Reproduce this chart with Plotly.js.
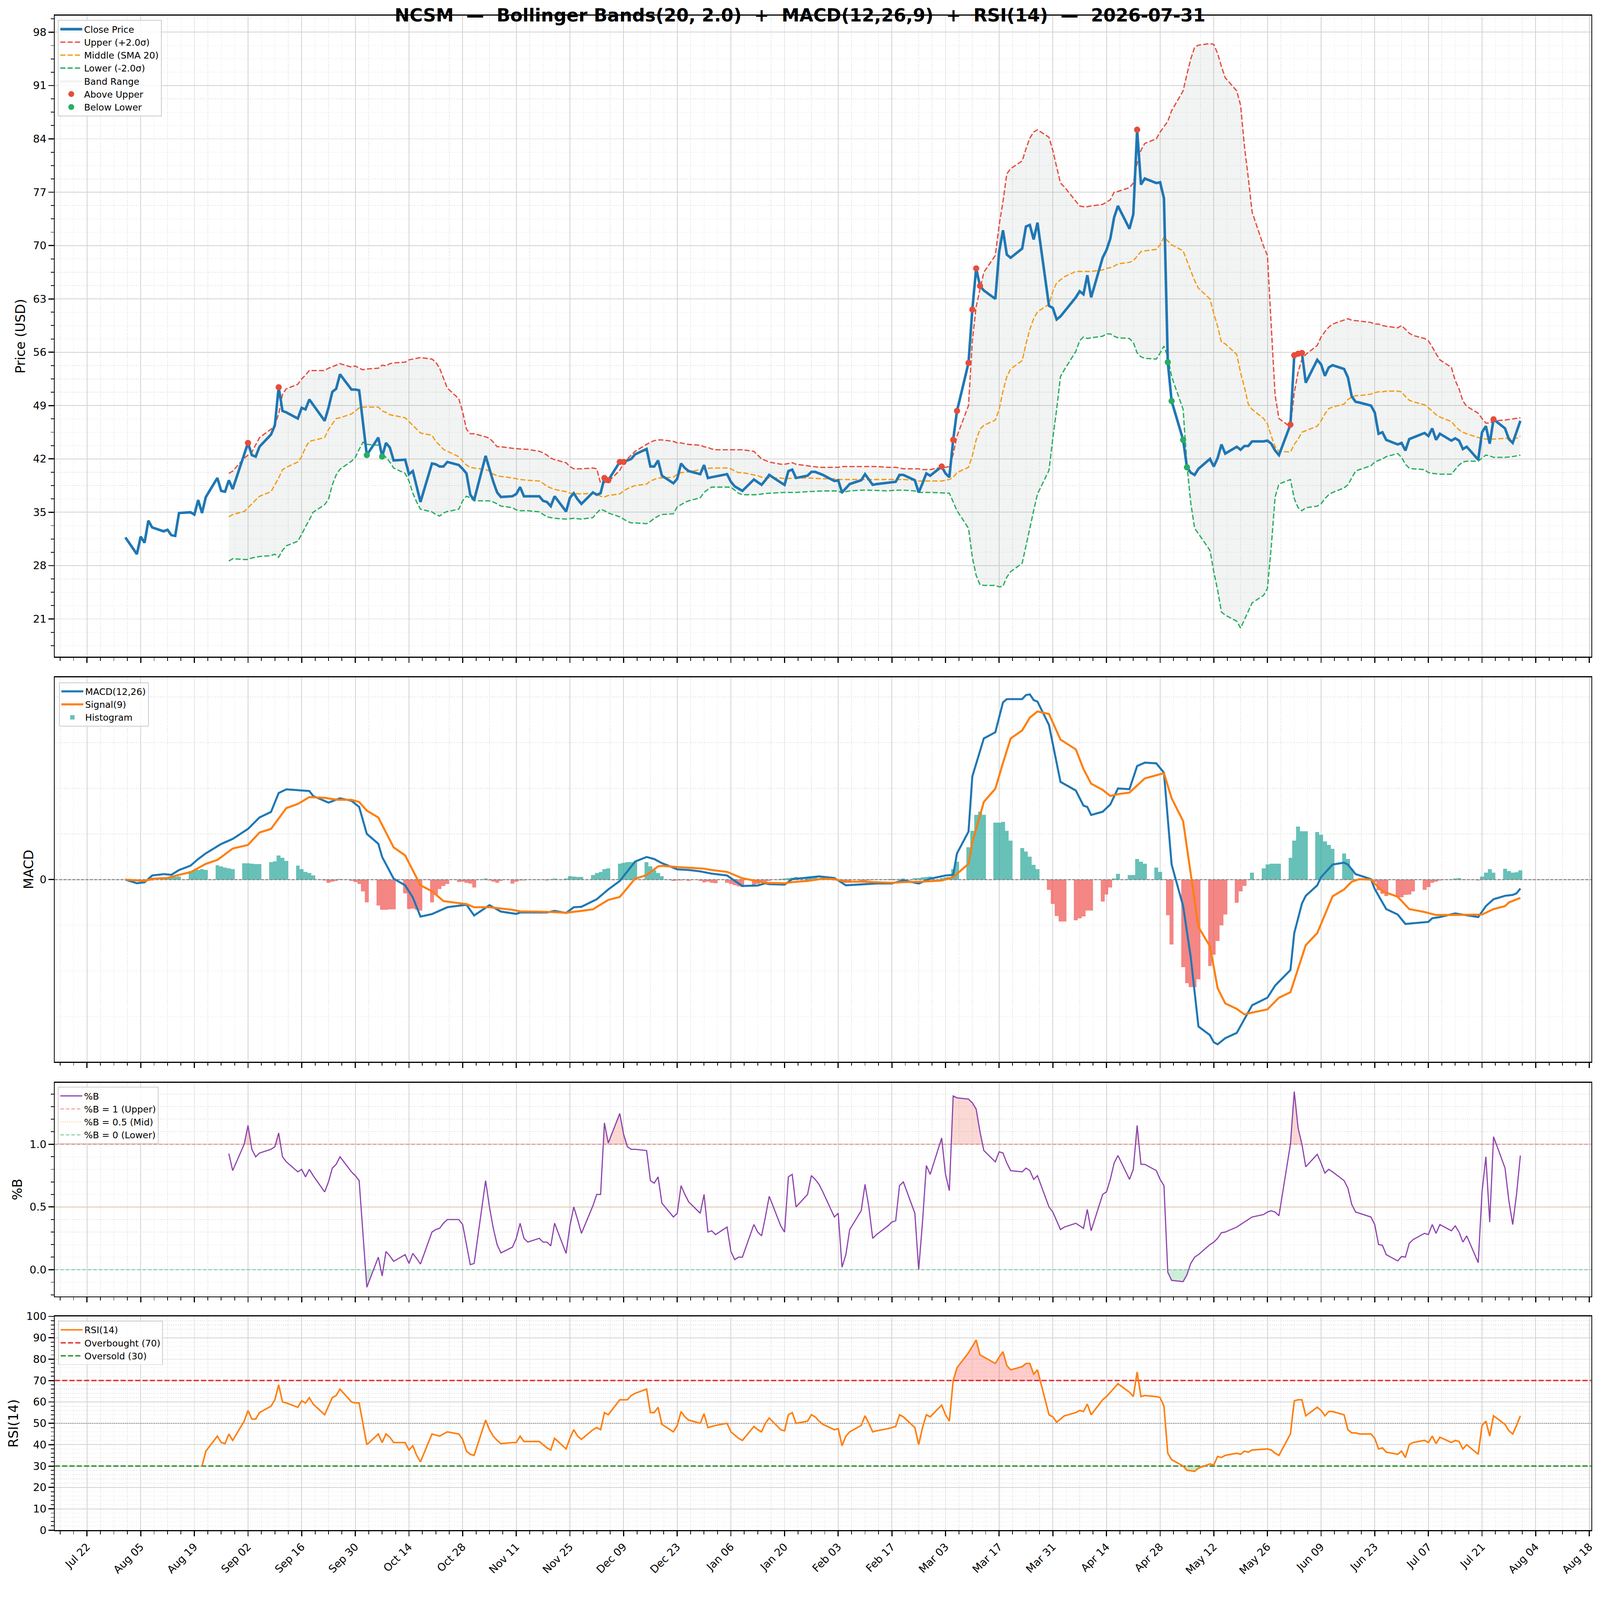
<!DOCTYPE html>
<html><head><meta charset="utf-8">
<script src="https://cdn.plot.ly/plotly-3.0.1.min.js"></script>
<style>html,body{margin:0;padding:0;background:#fff;overflow:hidden;}#chart{width:4378px;height:4322px;transform-origin:0 0;}</style>
</head><body><div id="chart"></div>
<script>
// ---------------- DATA ----------------
// Day offsets are calendar days from 2025-08-01 (first trading day).
const seriesStart = '2025-08-01';
const tickStart = '2025-07-22';
const xRangeDates = ['2025-07-13 14:10', '2026-08-18 11:45'];

// Close price, one value per trading day (weekdays 2025-08-01 .. 2026-07-31)
const closeVals = [
 31.7,
 29.5,31.8,31.0,33.9,33.0,
 32.5,32.7,32.0,31.9,34.9,
 35.0,34.7,36.6,34.9,37.0,
 39.5,37.8,37.7,39.2,38.05,
 42.6,44.1,42.5,42.3,43.6,
 45.2,46.4,51.4,48.3,48.1,
 47.3,48.7,48.5,49.8,49.1,
 47.0,48.7,50.8,51.2,53.1,
 51.1,51.1,51.0,46.8,42.5,
 44.8,42.3,44.1,43.5,41.8,
 41.9,40.0,40.4,38.4,36.35,
 41.4,41.3,41.0,41.0,41.6,
 41.2,40.7,40.1,37.3,36.6,
 42.4,40.6,39.0,37.6,37.0,
 37.1,37.4,38.3,37.1,37.1,
 37.1,36.5,36.35,35.8,37.1,
 35.1,36.9,37.5,36.7,36.1,
 37.6,37.3,37.5,39.5,39.2,
 41.6,41.6,41.8,42.0,42.6,
 43.3,41.0,41.0,41.8,39.8,
 38.8,39.4,41.4,40.8,40.4,
 40.0,41.2,39.5,39.6,39.7,
 40.0,39.0,38.4,38.1,37.8,
 39.3,38.9,38.6,39.2,39.9,
 38.9,38.6,40.4,40.6,39.5,
 39.8,40.3,40.3,40.1,39.9,
 39.1,39.2,37.6,38.1,38.7,
 39.2,40.0,39.3,38.6,38.7,
 38.9,38.9,39.0,39.9,39.9,
 39.2,37.6,38.8,40.1,39.8,
 41.0,40.1,39.6,44.5,48.3,
 54.6,61.6,67.0,64.7,64.1,
 63.0,69.2,72.0,68.8,68.4,
 69.6,72.5,72.7,70.8,73.0,
 62.1,61.8,60.3,60.7,61.3,
 63.2,64.0,63.6,66.1,63.2,
 68.4,69.4,70.9,73.7,75.2,
 72.2,74.1,85.2,78.0,78.8,
 78.2,78.3,76.2,54.7,49.6,
 44.5,40.9,40.2,39.9,40.7,
 42.0,41.0,42.1,43.9,42.7,
 43.6,43.2,43.7,43.7,44.3,
 44.3,44.4,44.0,43.1,42.5,
 46.5,55.6,55.8,55.9,52.0,
 55.0,54.4,52.9,54.0,54.3,
 53.8,52.7,50.2,49.5,49.4,
 49.0,48.1,45.3,45.5,44.5,
 43.9,44.1,43.1,44.6,44.8,
 45.4,45.0,46.0,44.5,45.3,
 44.4,44.7,44.4,43.3,43.6,
 41.9,45.5,46.3,44.0,47.2,
 46.0,44.6,44.1,45.6,47.0
];

// MACD histogram, one value per trading day
const histVals = [
 0.0,
 -0.05,-0.08,-0.1,-0.06,-0.03,
 0.05,0.08,0.1,0.12,0.13,
 0.38,0.4,0.42,0.45,0.42,
 0.63,0.58,0.52,0.5,0.45,
 0.72,0.72,0.7,0.68,0.68,
 0.77,0.8,1.06,0.96,0.82,
 0.61,0.45,0.34,0.29,0.18,
 -0.03,-0.14,-0.09,-0.06,0.03,
 -0.05,-0.1,-0.19,-0.51,-1.0,
 -1.14,-1.32,-1.32,-1.3,-1.3,
 -0.6,-1.29,-1.27,-1.32,-1.35,
 -1.0,-0.67,-0.41,-0.28,-0.19,
 -0.1,-0.09,-0.14,-0.17,-0.35,
 0.04,-0.03,-0.09,-0.14,-0.05,
 -0.17,-0.09,-0.03,-0.03,0.0,
 0.0,-0.01,-0.03,0.02,0.04,
 0.04,0.15,0.13,0.11,0.12,
 0.21,0.29,0.34,0.45,0.5,
 0.69,0.74,0.77,0.77,0.79,
 0.77,0.58,0.4,0.29,0.15,
 -0.06,-0.03,-0.04,-0.02,-0.05,
 -0.06,-0.12,-0.09,-0.14,-0.16,
 -0.14,-0.19,-0.25,-0.3,-0.32,
 -0.22,-0.19,-0.14,-0.1,-0.06,
 0.03,0.05,0.07,0.09,0.11,
 0.11,0.08,0.08,0.04,0.02,
 -0.03,-0.06,-0.12,-0.14,-0.14,
 -0.1,-0.06,-0.04,-0.02,0.0,
 0.01,0.03,0.02,0.03,0.05,
 0.07,0.07,0.1,0.12,0.14,
 0.07,0.1,0.12,0.45,0.79,
 1.41,2.14,2.83,2.97,2.83,
 2.49,2.49,2.52,2.14,1.71,
 1.38,1.22,1.01,0.64,0.45,
 -0.44,-1.07,-1.59,-1.83,-1.83,
 -1.78,-1.69,-1.61,-1.35,-1.35,
 -0.96,-0.65,-0.35,0.05,0.26,
 0.2,0.21,0.9,0.79,0.69,
 0.52,0.34,0.02,-1.56,-2.84,
 -3.84,-4.53,-4.71,-4.71,-4.37,
 -3.78,-3.28,-2.69,-2.01,-1.53,
 -1.02,-0.51,-0.27,0.02,0.31,
 0.5,0.66,0.7,0.7,0.7,
 0.96,1.71,2.32,2.11,2.11,
 2.09,1.97,1.68,1.52,1.34,
 1.15,0.9,0.45,0.02,0.01,
 0.0,-0.1,-0.46,-0.62,-0.73,
 -0.78,-0.78,-0.67,-0.65,-0.51,
 -0.44,-0.32,-0.14,-0.09,-0.03,
 0.02,0.04,0.06,0.02,0.0,
 -0.03,0.13,0.31,0.45,0.31,
 0.47,0.37,0.31,0.32,0.40
];

// [day, value] pairs
const upperBand = [[27,40.1],[28,40.4],[31,42.1],[33,42.9],[35,44.8],[38,45.9],[39,46.5],[40,47.9],[41,50.5],[42,51.2],[45,51.8],[46,52.5],[47,53.0],[48,53.6],[52,53.6],[53,53.9],[55,54.3],[56,54.5],[59,54.05],[60,54.2],[61,53.9],[62,53.7],[63,53.8],[66,53.9],[67,54.3],[68,54.2],[69,54.5],[70,54.6],[73,54.7],[74,55.0],[77,55.3],[80,55.1],[81,54.7],[82,53.9],[83,52.6],[84,51.3],[87,49.9],[88,48.2],[89,45.9],[90,45.3],[91,45.3],[94,44.9],[95,44.7],[96,44.2],[97,43.6],[98,43.6],[101,43.4],[103,43.3],[105,43.25],[108,43.0],[109,42.8],[110,42.5],[111,42.1],[112,41.9],[115,41.5],[116,41.0],[117,40.7],[119,40.7],[122,40.8],[123,40.7],[124,38.8],[125,38.9],[126,39.0],[129,40.5],[130,41.4],[131,42.0],[132,42.5],[133,43.0],[136,43.9],[137,44.2],[138,44.4],[139,44.5],[140,44.5],[143,44.3],[144,44.1],[145,44.1],[146,44.0],[147,43.9],[150,43.8],[151,43.6],[152,43.5],[153,43.3],[154,43.2],[157,43.2],[161,43.2],[164,43.0],[165,42.5],[166,42.0],[167,41.8],[168,41.6],[171,41.3],[172,41.3],[173,41.4],[174,41.5],[175,41.3],[178,41.1],[179,41.0],[181,40.9],[186,40.9],[187,41.0],[192,41.0],[196,41.0],[199,40.9],[201,40.9],[202,40.8],[203,40.7],[207,40.7],[208,40.6],[210,40.6],[213,40.9],[214,40.9],[215,41.0],[216,42.6],[217,45.0],[220,49.0],[221,57.5],[222,62.0],[223,64.3],[224,66.5],[227,68.7],[228,72.7],[229,75.8],[230,79.4],[231,80.1],[234,81.1],[235,82.7],[236,84.1],[237,84.9],[238,85.2],[241,84.2],[242,82.5],[243,80.3],[244,78.2],[245,77.7],[248,75.8],[249,75.2],[250,75.1],[251,75.1],[252,75.2],[255,75.4],[256,75.7],[257,76.0],[258,77.0],[259,77.1],[262,77.6],[263,78.2],[264,80.8],[265,82.5],[266,83.4],[269,84.0],[270,84.9],[271,85.6],[272,86.3],[273,87.7],[276,90.3],[277,92.5],[278,94.5],[279,96.0],[280,96.3],[283,96.5],[284,96.4],[285,95.2],[286,93.5],[287,92.0],[290,90.3],[291,88.4],[292,83.0],[293,78.9],[294,74.4],[297,69.9],[298,68.7],[299,59.4],[300,50.4],[301,47.3],[304,46.2],[305,50.7],[306,53.4],[307,55.1],[308,55.7],[311,56.9],[312,58.0],[313,58.7],[314,59.3],[315,59.7],[318,60.2],[319,60.4],[320,60.2],[322,60.1],[325,59.9],[326,59.7],[327,59.7],[328,59.5],[329,59.4],[332,59.2],[333,59.5],[334,59.0],[335,58.5],[336,58.2],[339,57.8],[340,57.5],[341,56.7],[342,55.8],[343,55.0],[346,54.0],[347,52.3],[348,51.2],[349,49.6],[350,48.9],[353,48.0],[354,47.3],[355,46.7],[356,46.7],[357,47.0],[360,47.1],[364,47.4]];

const middleBand = [[27,34.4],[28,34.7],[31,35.1],[32,35.6],[33,36.1],[35,37.1],[38,37.7],[39,38.6],[40,39.5],[41,40.6],[42,40.9],[45,41.6],[46,42.3],[47,43.5],[48,44.3],[52,44.8],[53,45.85],[54,46.6],[55,47.3],[56,47.4],[59,47.9],[60,48.3],[61,48.7],[62,48.8],[66,48.8],[67,48.3],[68,48.1],[69,47.8],[70,47.7],[73,47.4],[74,46.9],[75,46.4],[76,45.85],[77,45.4],[80,45.1],[81,44.3],[82,43.8],[83,43.25],[84,43.0],[87,42.3],[88,41.7],[89,41.2],[90,40.9],[91,40.8],[94,40.6],[95,40.4],[96,40.0],[97,39.8],[98,39.7],[101,39.5],[103,39.3],[105,39.2],[108,39.1],[109,38.8],[110,38.4],[111,38.2],[112,38.0],[115,37.7],[116,37.5],[119,37.4],[122,37.5],[123,37.4],[124,37.1],[125,37.0],[126,37.2],[129,37.4],[130,37.8],[131,38.1],[132,38.3],[133,38.5],[136,38.7],[137,39.1],[138,39.3],[139,39.5],[140,39.5],[143,39.6],[144,40.0],[145,40.2],[147,40.3],[150,40.6],[151,40.7],[153,40.8],[157,40.8],[158,40.7],[159,40.4],[160,40.2],[161,40.2],[164,39.9],[165,39.8],[166,39.6],[167,39.5],[171,39.5],[172,39.4],[175,39.5],[178,39.5],[182,39.4],[185,39.4],[186,39.3],[196,39.3],[203,39.3],[206,39.2],[207,39.1],[213,39.1],[214,39.2],[215,39.3],[216,39.6],[217,40.2],[220,40.9],[221,42.4],[222,44.5],[223,45.9],[224,46.4],[227,47.1],[228,48.5],[229,50.9],[230,52.8],[231,53.8],[234,54.9],[235,57.1],[236,59.0],[237,60.4],[238,61.3],[241,62.3],[242,64.0],[243,65.1],[244,65.5],[245,65.9],[248,66.6],[252,66.6],[255,66.8],[256,67.0],[257,67.1],[258,67.3],[259,67.6],[262,67.8],[263,68.0],[264,68.6],[265,69.2],[266,69.3],[269,69.5],[270,70.1],[271,71.1],[272,70.6],[273,70.1],[276,69.3],[277,68.0],[278,66.6],[279,65.4],[280,64.4],[283,63.0],[284,61.1],[285,59.4],[286,57.3],[287,57.1],[290,55.7],[291,53.3],[292,51.4],[293,49.2],[294,48.5],[297,47.3],[298,46.6],[299,45.0],[300,43.6],[301,43.0],[304,42.9],[305,43.9],[306,44.6],[307,45.5],[308,45.7],[311,46.3],[312,47.0],[313,47.9],[314,48.6],[315,48.8],[318,49.2],[319,49.8],[320,50.1],[321,50.3],[322,50.3],[325,50.5],[326,50.7],[327,50.8],[328,50.8],[329,50.9],[332,50.9],[333,50.8],[334,50.2],[335,49.7],[336,49.5],[339,49.1],[340,48.7],[341,48.3],[342,47.8],[343,47.5],[346,46.9],[347,46.3],[348,45.8],[349,45.5],[350,45.3],[353,44.8],[354,44.7],[355,44.6],[357,44.6],[360,44.7],[363,44.7],[364,45.0]];

const lowerBand = [[27,28.6],[28,28.9],[31,28.8],[32,28.8],[33,29.0],[35,29.2],[38,29.3],[39,29.5],[40,29.1],[41,30.0],[42,30.6],[45,31.2],[46,32.1],[47,33.1],[48,34.0],[49,35.0],[52,36.0],[53,36.7],[54,38.6],[55,39.9],[56,40.65],[59,41.7],[60,42.2],[61,43.25],[62,44.2],[63,43.9],[66,43.8],[67,42.7],[68,42.2],[69,41.6],[70,40.8],[73,40.1],[74,39.1],[75,37.5],[76,36.35],[77,35.4],[80,35.05],[81,34.7],[82,34.5],[83,34.9],[84,35.1],[87,35.4],[88,36.5],[89,37.1],[90,36.9],[91,36.5],[95,36.5],[96,36.35],[97,36.1],[98,35.8],[101,35.6],[102,35.3],[103,35.2],[105,35.2],[108,35.05],[109,34.7],[110,34.4],[111,34.3],[112,34.2],[115,34.1],[117,34.2],[119,34.1],[122,34.3],[123,34.9],[124,35.4],[125,35.2],[126,34.9],[129,34.4],[130,34.1],[131,33.8],[132,33.6],[133,33.6],[136,33.5],[137,33.8],[138,34.2],[139,34.5],[140,34.7],[143,34.8],[144,35.7],[145,36.0],[146,36.3],[147,36.5],[150,36.9],[151,37.6],[152,38.0],[153,38.3],[158,38.3],[159,37.9],[160,37.5],[161,37.3],[165,37.3],[166,37.4],[168,37.5],[172,37.6],[175,37.6],[178,37.7],[182,37.8],[186,37.8],[187,37.5],[188,37.7],[189,37.8],[192,37.9],[194,37.9],[199,37.8],[201,37.9],[203,37.9],[206,37.8],[207,37.6],[210,37.6],[215,37.5],[216,36.3],[217,35.2],[220,32.9],[221,29.1],[222,26.7],[223,25.5],[224,25.4],[227,25.4],[228,25.2],[229,25.3],[230,26.5],[231,27.2],[234,28.3],[235,30.7],[236,32.9],[237,35.2],[238,37.4],[241,40.5],[242,44.7],[243,48.5],[244,52.8],[245,53.7],[248,56.1],[249,57.5],[250,58.0],[251,57.8],[252,57.9],[255,58.1],[256,58.4],[257,58.4],[258,58.1],[259,57.9],[262,57.8],[263,57.3],[264,55.9],[265,55.4],[266,55.2],[269,55.1],[270,55.9],[271,56.8],[272,55.4],[273,52.8],[276,48.5],[277,41.2],[278,36.2],[279,32.9],[280,32.2],[283,30.0],[284,27.2],[285,24.8],[286,21.9],[287,21.5],[290,20.7],[291,19.8],[292,20.9],[293,21.9],[294,23.1],[297,24.1],[298,25.0],[299,30.5],[300,37.0],[301,38.7],[304,39.3],[305,36.8],[306,35.6],[307,35.2],[308,35.6],[311,35.8],[312,36.1],[313,36.8],[314,37.3],[315,37.6],[318,38.2],[319,38.6],[320,39.5],[321,40.4],[322,40.6],[325,41.1],[326,41.6],[327,41.8],[328,42.0],[329,42.3],[332,42.7],[333,42.2],[334,41.3],[335,40.8],[336,40.7],[339,40.6],[340,40.2],[341,40.1],[343,40.0],[346,40.0],[347,40.6],[348,41.2],[349,41.6],[350,41.7],[353,41.7],[354,42.1],[355,42.5],[356,42.4],[357,42.2],[360,42.2],[362,42.3],[363,42.4],[364,42.5]];

const aboveUpper = [[32,44.1],[40,51.4],[125,39.5],[126,39.2],[129,41.6],[130,41.6],[213,41.0],[216,44.5],[217,48.3],[220,54.6],[221,61.6],[222,67.0],[223,64.7],[264,85.2],[304,46.5],[305,55.6],[306,55.8],[307,55.9],[357,47.2]];
const belowLower = [[63,42.5],[67,42.3],[272,54.7],[273,49.6],[276,44.5],[277,40.9]];

const macdLine = [[0,0],[3,-0.16],[5,-0.12],[7,0.18],[10,0.24],[12,0.21],[14,0.42],[17,0.61],[19,0.9],[21,1.15],[25,1.56],[28,1.78],[32,2.22],[35,2.72],[38,2.96],[40,3.79],[42,3.95],[46,3.9],[48,3.88],[49,3.66],[53,3.37],[56,3.56],[59,3.45],[61,3.18],[63,2.0],[66,1.57],[67,0.99],[70,0.04],[73,-0.25],[75,-0.78],[77,-1.62],[80,-1.51],[84,-1.21],[89,-1.10],[91,-1.57],[95,-1.12],[98,-1.40],[102,-1.50],[103,-1.44],[110,-1.44],[112,-1.37],[115,-1.46],[117,-1.21],[119,-1.19],[123,-0.86],[126,-0.43],[129,-0.06],[133,0.79],[136,0.99],[138,0.9],[140,0.72],[144,0.45],[147,0.42],[150,0.36],[153,0.26],[157,0.18],[161,-0.28],[165,-0.26],[167,-0.16],[168,-0.2],[172,-0.22],[174,0.02],[178,0.1],[181,0.14],[185,0.07],[188,-0.25],[192,-0.21],[196,-0.17],[200,-0.17],[203,-0.03],[207,-0.17],[210,0.04],[214,0.18],[216,0.21],[217,1.15],[220,2.1],[221,4.52],[223,5.59],[224,6.18],[227,6.45],[229,7.76],[230,7.9],[234,7.9],[235,8.08],[236,8.11],[237,7.86],[238,7.79],[241,6.77],[244,4.28],[248,3.9],[250,3.24],[251,3.18],[252,2.83],[255,2.97],[257,3.29],[259,3.99],[262,3.96],[264,4.97],[266,5.12],[269,5.09],[271,4.68],[273,0.66],[276,-1.16],[278,-3.41],[280,-6.43],[283,-6.81],[284,-7.12],[285,-7.21],[287,-6.94],[290,-6.71],[291,-6.41],[294,-5.5],[298,-5.17],[300,-4.64],[304,-3.96],[305,-2.34],[307,-1.05],[308,-0.71],[311,-0.25],[312,0.11],[315,0.66],[318,0.74],[319,0.66],[321,0.24],[325,0.02],[326,-0.41],[329,-1.29],[332,-1.53],[334,-1.94],[340,-1.85],[341,-1.69],[343,-1.64],[347,-1.48],[350,-1.55],[353,-1.64],[355,-1.16],[357,-0.86],[360,-0.71],[362,-0.67],[363,-0.6],[364,-0.39]];

const signalLine = [[0,0],[5,-0.06],[7,0.04],[11,0.07],[14,0.21],[17,0.32],[21,0.69],[24,0.86],[28,1.36],[32,1.52],[35,2.06],[38,2.22],[42,3.13],[45,3.31],[48,3.61],[52,3.58],[55,3.50],[59,3.49],[61,3.40],[63,3.02],[66,2.72],[70,1.41],[73,1.06],[77,-0.25],[80,-0.51],[83,-0.94],[87,-1.03],[89,-1.07],[91,-1.21],[95,-1.21],[101,-1.32],[103,-1.39],[110,-1.41],[115,-1.45],[119,-1.37],[122,-1.30],[126,-0.89],[129,-0.76],[133,0.04],[136,0.2],[139,0.58],[140,0.6],[145,0.54],[151,0.48],[153,0.42],[157,0.34],[161,0.06],[167,-0.14],[172,-0.16],[174,-0.11],[178,-0.06],[182,0.04],[185,0.02],[188,-0.09],[192,-0.09],[200,-0.14],[203,-0.11],[208,-0.09],[213,-0.04],[216,0.11],[220,0.69],[221,1.63],[224,3.4],[227,3.98],[229,5.11],[231,6.18],[234,6.53],[236,7.09],[238,7.36],[241,7.25],[244,6.13],[248,5.7],[250,4.84],[252,4.2],[255,3.93],[257,3.66],[259,3.74],[262,3.81],[266,4.43],[269,4.57],[271,4.66],[273,3.56],[276,2.56],[280,-2.07],[283,-2.92],[285,-4.75],[287,-5.42],[290,-5.66],[292,-5.90],[294,-5.82],[298,-5.68],[301,-5.17],[304,-4.93],[308,-2.87],[311,-2.34],[315,-0.73],[318,-0.43],[320,-0.09],[322,0.02],[325,0.0],[328,-0.51],[332,-0.75],[335,-1.29],[339,-1.42],[342,-1.55],[346,-1.55],[350,-1.53],[354,-1.53],[357,-1.29],[360,-1.16],[361,-1.0],[364,-0.8]];

const percentB = [[27,0.925],[28,0.79],[31,1.0],[32,1.15],[33,0.96],[34,0.90],[35,0.93],[38,0.96],[39,0.98],[40,1.09],[41,0.9],[42,0.86],[45,0.78],[46,0.80],[47,0.74],[48,0.80],[49,0.75],[52,0.62],[53,0.70],[54,0.81],[55,0.84],[56,0.9],[59,0.78],[60,0.75],[61,0.71],[62,0.27],[63,-0.14],[66,0.1],[67,-0.05],[68,0.145],[69,0.11],[70,0.067],[73,0.12],[74,0.05],[75,0.13],[76,0.09],[77,0.045],[80,0.3],[81,0.32],[82,0.33],[83,0.37],[84,0.4],[87,0.4],[88,0.36],[89,0.2],[90,0.04],[91,0.05],[94,0.71],[95,0.5],[96,0.33],[97,0.2],[98,0.134],[101,0.18],[102,0.25],[103,0.37],[104,0.25],[105,0.22],[108,0.25],[109,0.22],[110,0.22],[111,0.19],[112,0.37],[115,0.13],[116,0.35],[117,0.5],[118,0.4],[119,0.29],[122,0.51],[123,0.6],[124,0.6],[125,1.17],[126,1.01],[129,1.245],[130,1.08],[131,0.98],[132,0.96],[133,0.96],[136,0.95],[137,0.71],[138,0.69],[139,0.74],[140,0.53],[143,0.42],[144,0.45],[145,0.67],[146,0.6],[147,0.54],[150,0.45],[151,0.6],[152,0.3],[153,0.31],[154,0.28],[157,0.34],[158,0.145],[159,0.08],[160,0.1],[161,0.1],[164,0.36],[165,0.3],[166,0.27],[167,0.42],[168,0.585],[171,0.35],[172,0.3],[173,0.74],[174,0.76],[175,0.5],[178,0.6],[179,0.75],[180,0.72],[181,0.68],[182,0.62],[185,0.42],[186,0.45],[187,0.02],[188,0.12],[189,0.32],[192,0.47],[193,0.68],[194,0.5],[195,0.25],[196,0.28],[199,0.35],[200,0.38],[201,0.39],[202,0.67],[203,0.70],[206,0.45],[207,0.0],[208,0.38],[209,0.83],[210,0.76],[213,1.05],[214,0.76],[215,0.63],[216,1.385],[217,1.37],[220,1.36],[221,1.33],[222,1.28],[223,1.1],[224,0.95],[227,0.86],[228,0.94],[229,0.93],[230,0.85],[231,0.79],[234,0.78],[235,0.81],[236,0.79],[237,0.72],[238,0.75],[241,0.5],[242,0.46],[243,0.39],[244,0.32],[245,0.34],[248,0.37],[249,0.35],[250,0.33],[251,0.48],[252,0.31],[255,0.6],[256,0.62],[257,0.72],[258,0.85],[259,0.91],[262,0.72],[263,0.8],[264,1.15],[265,0.84],[266,0.84],[269,0.79],[270,0.72],[271,0.67],[272,-0.02],[273,-0.085],[276,-0.095],[277,-0.04],[278,0.05],[279,0.1],[280,0.12],[283,0.2],[284,0.22],[285,0.25],[286,0.295],[287,0.3],[290,0.34],[291,0.36],[292,0.38],[293,0.40],[294,0.42],[297,0.44],[298,0.46],[299,0.47],[300,0.46],[301,0.43],[304,1.0],[305,1.42],[306,1.13],[307,1.0],[308,0.82],[311,0.92],[312,0.85],[313,0.77],[314,0.8],[315,0.78],[318,0.71],[319,0.65],[320,0.52],[321,0.46],[322,0.45],[325,0.42],[326,0.36],[327,0.2],[328,0.195],[329,0.12],[332,0.07],[333,0.105],[334,0.1],[335,0.21],[336,0.24],[339,0.29],[340,0.28],[341,0.36],[342,0.29],[343,0.36],[346,0.31],[347,0.35],[348,0.3],[349,0.22],[350,0.27],[353,0.056],[354,0.62],[355,0.9],[356,0.38],[357,1.06],[360,0.81],[361,0.55],[362,0.36],[363,0.6],[364,0.91]];

const rsi14 = [[20,30],[21,37],[24,44],[25,41],[26,40.5],[27,45],[28,42],[31,51],[32,56],[33,52],[34,52],[35,55],[38,58],[39,61],[40,68],[41,60],[42,59.5],[45,57.5],[46,60.5],[47,59.5],[48,62],[49,59],[52,54],[53,58],[54,62],[55,63],[56,66],[59,60],[60,59.5],[61,59.5],[62,50],[63,40],[66,45],[67,41],[68,45],[69,43.5],[70,41],[73,41],[74,37.5],[75,39.5],[76,35],[77,32],[80,45],[81,44.5],[82,44],[83,45],[84,46],[87,45],[88,42.5],[89,37],[90,35.5],[91,35],[94,51.5],[95,47],[96,44],[97,42],[98,40.5],[101,41],[102,41],[103,44],[104,41.5],[105,41.5],[108,41.5],[109,40],[110,38.5],[111,37.5],[112,43],[115,38],[116,43],[117,47],[118,44],[119,42.5],[122,47],[123,48],[124,47],[125,55],[126,54],[129,61],[130,61],[131,61],[132,63],[133,64],[136,66],[137,55],[138,55],[139,57.5],[140,49.5],[143,46],[144,49],[145,55.5],[146,53],[147,51.5],[150,50],[151,54.5],[152,48],[153,48.5],[154,49],[157,50],[158,46],[159,44.5],[160,43],[161,42],[164,48.5],[165,47],[166,46],[167,50],[168,52.5],[171,47],[172,46.5],[173,54],[174,55],[175,50],[178,51],[179,54],[180,53],[181,51],[182,49.5],[185,47],[186,47.5],[187,39.5],[188,44],[189,46],[192,49],[193,53.5],[194,50],[195,46],[196,46.5],[199,47.5],[200,48],[201,48.5],[202,54],[203,53],[206,48],[207,40],[208,48],[209,54],[210,53],[213,58.5],[214,54],[215,51],[216,70],[217,76],[220,83],[221,86],[222,89],[223,82],[224,81],[227,78],[228,81],[229,83.5],[230,77],[231,75],[234,76.5],[235,78],[236,78],[237,73],[238,75],[241,54],[242,53],[243,50.5],[244,52],[245,53.5],[248,55],[249,56],[250,55.5],[251,59],[252,54],[255,61],[256,62.5],[257,64.5],[258,66.5],[259,68.5],[262,64.5],[263,62.5],[264,74],[265,62.5],[266,63],[269,62.5],[270,62],[271,58],[272,36],[273,33],[276,30],[277,28],[278,27.8],[279,27.5],[280,29],[283,31],[284,30.5],[285,34.5],[286,34],[287,35],[290,36],[291,35.5],[292,37],[293,36.5],[294,37.5],[297,38],[298,38],[299,37.5],[300,36],[301,35],[304,45],[305,60.5],[306,61],[307,61],[308,53.5],[311,57.5],[312,56],[313,53.5],[314,55.5],[315,55.5],[318,54],[319,47],[320,45.5],[321,45.5],[322,45],[325,45],[326,43],[327,38],[328,38.5],[329,36.5],[332,35.5],[333,37],[334,34],[335,40],[336,41],[339,42],[340,41],[341,44],[342,40.5],[343,43.5],[346,41],[347,42],[348,41.5],[349,38],[350,40],[353,35.5],[354,49],[355,51],[356,44],[357,53.5],[360,49.5],[361,46.5],[362,45],[363,49],[364,53.5]];

// reference levels
const pbUpperLevel = 1, pbMidLevel = 0.5, pbLowerLevel = 0;
const rsiOverbought = 70, rsiOversold = 30, rsiMid = 50;

// ---------------- helpers ----------------
const DAY = 86400000;
const baseMs = Date.parse(seriesStart + 'T00:00:00Z');
function fmt(ms){ return new Date(ms).toISOString().slice(0,19).replace('T',' '); }
function dayToDate(d){ return fmt(baseMs + d*DAY); }
function tradingDays(n){ const out=[]; for(let d=0; out.length<n; d++){ const wd=new Date(baseMs+d*DAY).getUTCDay(); if(wd!==0 && wd!==6) out.push(d);} return out; }
const PX = p => p.map(q => dayToDate(q[0]));
const PY = p => p.map(q => q[1]);
function exceed(pairs, thr, above){
  const xs=[], ys=[]; const isOut = v => above ? v>thr : v<thr;
  for(let i=0;i<pairs.length;i++){
    const d=pairs[i][0], v=pairs[i][1], out=isOut(v);
    if(i>0){
      const pd=pairs[i-1][0], pv=pairs[i-1][1], pout=isOut(pv);
      if(out!==pout){ const t=(thr-pv)/(v-pv); xs.push(dayToDate(pd+t*(d-pd))); ys.push(thr); if(!out){xs.push(null); ys.push(null);} }
    } else if(out){ xs.push(dayToDate(d)); ys.push(thr); }
    if(out){ xs.push(dayToDate(d)); ys.push(v); }
    if(i===pairs.length-1 && out){ xs.push(dayToDate(d)); ys.push(thr); }
  }
  return {x:xs, y:ys};
}

const tdays = tradingDays(closeVals.length);
const closeX = tdays.map(dayToDate);
const histPos = {x:[], y:[]}, histNeg = {x:[], y:[]};
histVals.forEach((v,i)=>{ const t = v>=0 ? histPos : histNeg; t.x.push(dayToDate(tdays[i])); t.y.push(v); });

const FONT = 'DejaVu Sans';
const traces = [];
// ---- Price panel ----
traces.push({x:PX(lowerBand), y:PY(lowerBand), xaxis:'x', yaxis:'y', mode:'lines', line:{width:0,color:'rgba(0,0,0,0)'}, showlegend:false, hoverinfo:'skip', legend:'legend'});
traces.push({x:PX(upperBand), y:PY(upperBand), xaxis:'x', yaxis:'y', mode:'lines', line:{width:0,color:'rgba(0,0,0,0)'}, fill:'tonexty', fillcolor:'rgba(127,140,141,0.10)', name:'Band Range', legendrank:5, legend:'legend'});
traces.push({x:PX(upperBand), y:PY(upperBand), xaxis:'x', yaxis:'y', mode:'lines', line:{width:3.5,color:'#e74c3c',dash:'14px,6px'}, name:'Upper (+2.0σ)', legendrank:2, legend:'legend'});
traces.push({x:PX(middleBand), y:PY(middleBand), xaxis:'x', yaxis:'y', mode:'lines', line:{width:3.5,color:'#f39c12',dash:'14px,6px'}, name:'Middle (SMA 20)', legendrank:3, legend:'legend'});
traces.push({x:PX(lowerBand), y:PY(lowerBand), xaxis:'x', yaxis:'y', mode:'lines', line:{width:3.5,color:'#27ae60',dash:'14px,6px'}, name:'Lower (-2.0σ)', legendrank:4, legend:'legend'});
traces.push({x:closeX, y:closeVals, xaxis:'x', yaxis:'y', mode:'lines', line:{width:7,color:'#1f77b4'}, name:'Close Price', legendrank:1, legend:'legend'});
traces.push({x:PX(aboveUpper), y:PY(aboveUpper), xaxis:'x', yaxis:'y', mode:'markers', marker:{size:17,color:'#e74c3c',line:{width:0}}, name:'Above Upper', legendrank:6, legend:'legend'});
traces.push({x:PX(belowLower), y:PY(belowLower), xaxis:'x', yaxis:'y', mode:'markers', marker:{size:17,color:'#27ae60',line:{width:0}}, name:'Below Lower', legendrank:7, legend:'legend'});
// ---- MACD panel ----
traces.push({type:'bar', x:histPos.x, y:histPos.y, width:1.0*DAY, xaxis:'x2', yaxis:'y2', marker:{color:'rgba(38,166,154,0.7)',line:{width:0}}, name:'Histogram', legendrank:3, legend:'legend2'});
traces.push({type:'bar', x:histNeg.x, y:histNeg.y, width:1.0*DAY, xaxis:'x2', yaxis:'y2', marker:{color:'rgba(239,83,80,0.7)',line:{width:0}}, showlegend:false, legend:'legend2'});
traces.push({x:xRangeDates, y:[0,0], xaxis:'x2', yaxis:'y2', mode:'lines', line:{width:3,color:'#888888',dash:'8px,4px'}, showlegend:false, hoverinfo:'skip', legend:'legend2'});
traces.push({x:PX(macdLine), y:PY(macdLine), xaxis:'x2', yaxis:'y2', mode:'lines', line:{width:5.5,color:'#1f77b4'}, name:'MACD(12,26)', legendrank:1, legend:'legend2'});
traces.push({x:PX(signalLine), y:PY(signalLine), xaxis:'x2', yaxis:'y2', mode:'lines', line:{width:5.5,color:'#ff7f0e'}, name:'Signal(9)', legendrank:2, legend:'legend2'});
// ---- %B panel ----
const pbHi = exceed(percentB, pbUpperLevel, true), pbLo = exceed(percentB, pbLowerLevel, false);
traces.push({x:pbHi.x, y:pbHi.y, xaxis:'x3', yaxis:'y3', mode:'lines', fill:'toself', fillcolor:'rgba(231,76,60,0.22)', line:{width:0}, showlegend:false, hoverinfo:'skip', legend:'legend3'});
traces.push({x:pbLo.x, y:pbLo.y, xaxis:'x3', yaxis:'y3', mode:'lines', fill:'toself', fillcolor:'rgba(39,174,96,0.22)', line:{width:0}, showlegend:false, hoverinfo:'skip', legend:'legend3'});
traces.push({x:xRangeDates, y:[pbUpperLevel,pbUpperLevel], xaxis:'x3', yaxis:'y3', mode:'lines', line:{width:2.5,color:'rgba(231,76,60,0.6)',dash:'10px,5px'}, name:'%B = 1 (Upper)', legendrank:2, legend:'legend3'});
traces.push({x:xRangeDates, y:[pbMidLevel,pbMidLevel], xaxis:'x3', yaxis:'y3', mode:'lines', line:{width:2,color:'rgba(243,156,18,0.5)',dash:'dot'}, name:'%B = 0.5 (Mid)', legendrank:3, legend:'legend3'});
traces.push({x:xRangeDates, y:[pbLowerLevel,pbLowerLevel], xaxis:'x3', yaxis:'y3', mode:'lines', line:{width:2.5,color:'rgba(39,174,96,0.6)',dash:'10px,5px'}, name:'%B = 0 (Lower)', legendrank:4, legend:'legend3'});
traces.push({x:PX(percentB), y:PY(percentB), xaxis:'x3', yaxis:'y3', mode:'lines', line:{width:3.2,color:'#8e44ad'}, name:'%B', legendrank:1, legend:'legend3'});
// ---- RSI panel ----
const rsiHi = exceed(rsi14, rsiOverbought, true), rsiLo = exceed(rsi14, rsiOversold, false);
traces.push({x:rsiHi.x, y:rsiHi.y, xaxis:'x4', yaxis:'y4', mode:'lines', fill:'toself', fillcolor:'rgba(255,0,0,0.2)', line:{width:0}, showlegend:false, hoverinfo:'skip', legend:'legend4'});
traces.push({x:rsiLo.x, y:rsiLo.y, xaxis:'x4', yaxis:'y4', mode:'lines', fill:'toself', fillcolor:'rgba(0,128,0,0.2)', line:{width:0}, showlegend:false, hoverinfo:'skip', legend:'legend4'});
traces.push({x:xRangeDates, y:[rsiMid,rsiMid], xaxis:'x4', yaxis:'y4', mode:'lines', line:{width:2.5,color:'rgba(128,128,128,0.8)',dash:'dot'}, showlegend:false, hoverinfo:'skip', legend:'legend4'});
traces.push({x:xRangeDates, y:[rsiOverbought,rsiOverbought], xaxis:'x4', yaxis:'y4', mode:'lines', line:{width:4,color:'rgba(230,20,20,0.85)',dash:'14px,6px'}, name:'Overbought (70)', legendrank:2, legend:'legend4'});
traces.push({x:xRangeDates, y:[rsiOversold,rsiOversold], xaxis:'x4', yaxis:'y4', mode:'lines', line:{width:4,color:'rgba(0,128,0,0.8)',dash:'14px,6px'}, name:'Oversold (30)', legendrank:3, legend:'legend4'});
traces.push({x:PX(rsi14), y:PY(rsi14), xaxis:'x4', yaxis:'y4', mode:'lines', line:{width:4.2,color:'#ff7f0e'}, name:'RSI(14)', legendrank:1, legend:'legend4'});

// ---------------- layout ----------------
const W = 4378, H = 4322;
const xDomain = [150/W, 4354/W];
const yd = (top, bot) => [1 - bot/H, 1 - top/H];
const tickFont = {family:FONT, size:29, color:'#000'};
function xAxis(anchor, labels){
  return {type:'date', range:xRangeDates, domain:xDomain, anchor:anchor, tick0:tickStart, dtick:14*DAY, tickformat:'%b %d', tickangle:-45,
    ticks:'outside', ticklen:14, tickwidth:3, tickcolor:'#000', showticklabels:labels, tickfont:tickFont,
    showline:true, mirror:true, linecolor:'#000', linewidth:3, showgrid:true, gridcolor:'#d2d2d2', gridwidth:2, zeroline:false,
    minor:{tickmode:'linear', tick0:tickStart, dtick:3.5*DAY, ticks:'outside', ticklen:8, tickwidth:2, tickcolor:'#000', showgrid:true, gridcolor:'#e4e4e4', gridwidth:1.5, griddash:'dot'}};
}
function yAxis(anchor, domain, range, extra){
  return Object.assign({domain:domain, range:range, anchor:anchor, ticks:'outside', ticklen:14, tickwidth:3, tickcolor:'#000', tickfont:tickFont,
    showline:true, mirror:true, linecolor:'#000', linewidth:3, showgrid:true, gridcolor:'#d2d2d2', gridwidth:2, zeroline:false}, extra);
}
const minorY = (t0, dt, ticks) => ({tickmode:'linear', tick0:t0, dtick:dt, ticks:ticks, ticklen:8, tickwidth:2, tickcolor:'#000', showgrid:true, gridcolor:'#e4e4e4', gridwidth:1.5, griddash:'dot'});
const legendBase = {font:{family:FONT, size:25, color:'#000'}, bgcolor:'rgba(255,255,255,0.85)', bordercolor:'#cccccc', borderwidth:2, xanchor:'left', yanchor:'top', itemwidth:60, traceorder:'normal'};

const layout = {
  width:W, height:H, margin:{l:0,r:0,t:0,b:0}, paper_bgcolor:'#fff', plot_bgcolor:'#fff',
  font:{family:FONT, color:'#000'}, barmode:'overlay', bargap:0,
  title:{text:'<b>NCSM  —  Bollinger Bands(20, 2.0)  +  MACD(12,26,9)  +  RSI(14)  —  2026-07-31</b>', font:{family:FONT, size:49, color:'#000'}, x:0.5, xanchor:'center', xref:'container', y:1-42/H, yanchor:'middle', yref:'container'},
  xaxis: xAxis('y', false),
  xaxis2: xAxis('y2', false),
  xaxis3: xAxis('y3', false),
  xaxis4: xAxis('y4', true),
  yaxis: yAxis('x', yd(43,1797), [16.04,100.16], {tick0:21, dtick:7, minor:minorY(21,1.75,'outside')}),
  yaxis2: yAxis('x2', yd(1853,2905), [-7.97,8.86], {tickmode:'array', tickvals:[0], ticktext:['0'], minor:minorY(0,2,'')}),
  yaxis3: yAxis('x3', yd(2962.6,3547), [-0.212,1.4905], {tick0:0, dtick:0.5, tickformat:'.1f', minor:minorY(0,0.1,'outside')}),
  yaxis4: yAxis('x4', yd(3602,4187), [0,100], {tick0:0, dtick:10, minor:minorY(0,2,'outside')}),
  legend: Object.assign({x:158/W, y:1-55/H}, legendBase),
  legend2: Object.assign({x:161/W, y:1-1867/H}, legendBase),
  legend3: Object.assign({x:158/W, y:1-2974/H}, legendBase),
  legend4: Object.assign({x:159/W, y:1-3614/H}, legendBase),
  annotations:[
    {text:'Price (USD)', xref:'paper', yref:'paper', x:56/W, y:1-920/H, textangle:-90, showarrow:false, xanchor:'center', yanchor:'middle', font:{family:FONT, size:36, color:'#000'}},
    {text:'MACD', xref:'paper', yref:'paper', x:78/W, y:1-2379/H, textangle:-90, showarrow:false, xanchor:'center', yanchor:'middle', font:{family:FONT, size:36, color:'#000'}},
    {text:'%B', xref:'paper', yref:'paper', x:47/W, y:1-3255/H, textangle:-90, showarrow:false, xanchor:'center', yanchor:'middle', font:{family:FONT, size:36, color:'#000'}},
    {text:'RSI(14)', xref:'paper', yref:'paper', x:36/W, y:1-3895/H, textangle:-90, showarrow:false, xanchor:'center', yanchor:'middle', font:{family:FONT, size:36, color:'#000'}}
  ]
};
// fit the fixed-size figure into the actual viewport (the browser may use a device scale factor)
const chartDiv = document.getElementById('chart');
const fitScale = window.innerWidth / W;
if (Math.abs(fitScale - 1) > 0.001) chartDiv.style.transform = 'scale(' + fitScale + ')';
Plotly.newPlot(chartDiv, traces, layout, {staticPlot:true, displayModeBar:false});
</script>
</body></html>
